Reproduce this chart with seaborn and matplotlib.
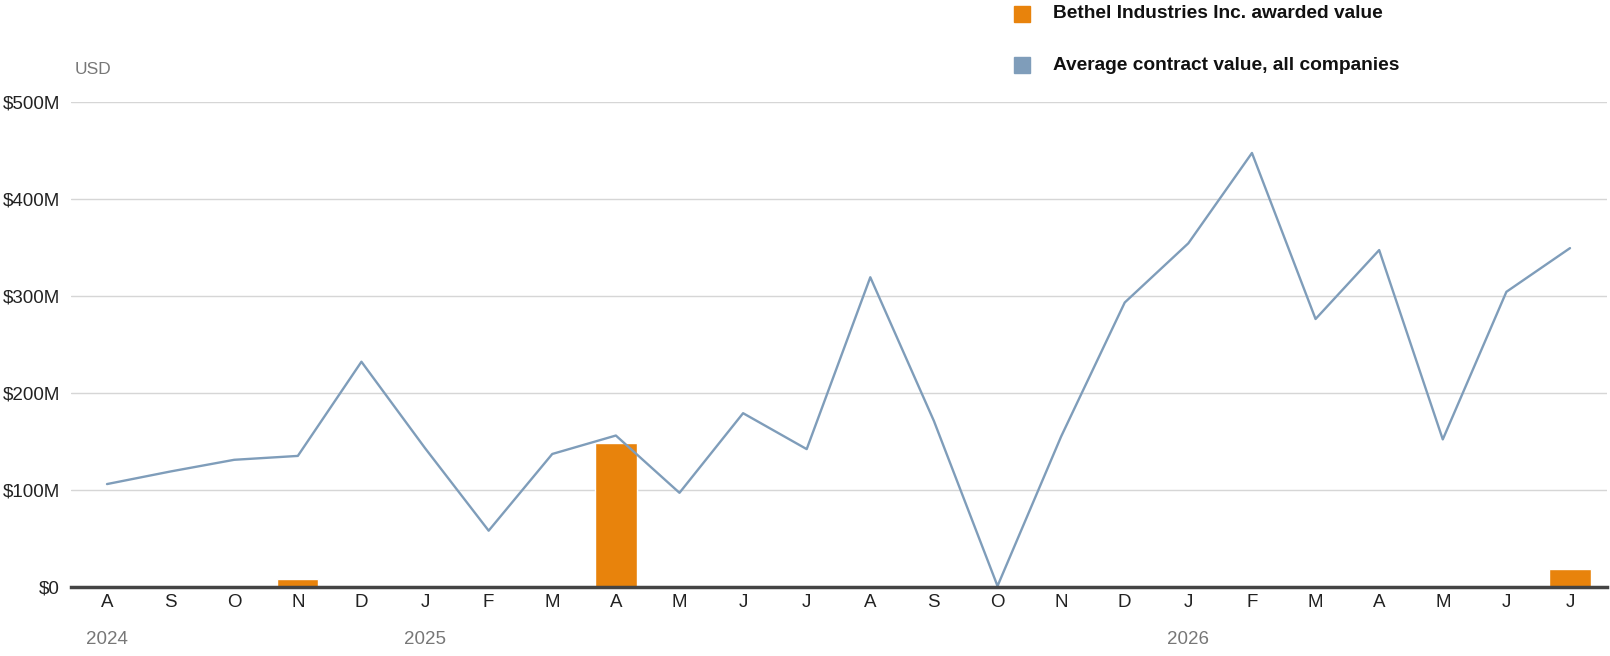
import matplotlib
matplotlib.use("Agg")
import matplotlib.pyplot as plt
import matplotlib.transforms as mtransforms
import seaborn as sns
import pandas as pd
import numpy as np
from matplotlib.patches import Rectangle
from matplotlib import font_manager

months = ["A", "S", "O", "N", "D", "J", "F", "M", "A", "M", "J", "J",
          "A", "S", "O", "N", "D", "J", "F", "M", "A", "M", "J", "J"]
years = ["2024", "2025", "2026"]
year_pos = [0, 5, 17]
avg_value = [106, 119, 131, 135, 232, 143, 58, 137, 156, 97, 179, 142,
             319, 171, 1, 155, 293, 354, 447, 276, 347, 152, 304, 349]
bethel_value = [0, 0, 0, 8.5, 0, 0, 0, 0, 148, 0, 0, 0,
                0, 0, 0, 0, 0, 0, 0, 0, 0, 0, 0, 18.5]
yticks = [0, 100, 200, 300, 400, 500]
ytick_labels = ["$0", "$100M", "$200M", "$300M", "$400M", "$500M"]

sns.set_theme(style="white")
names = {f.name for f in font_manager.fontManager.ttflist}
base = "Liberation Sans Narrow" if "Liberation Sans Narrow" in names else "Liberation Sans"
plt.rcParams["font.family"] = [base, "DejaVu Sans"]

ORANGE = "#E8830C"
BLUE = "#7F9DBA"

df = pd.DataFrame({"idx": np.arange(len(months)), "avg": avg_value, "bethel": bethel_value})

fig = plt.figure(figsize=(16.1, 6.56), dpi=100)
W, H = 1610, 656
L, R, T, B = 71, 1607, 101.5, 587
ax = fig.add_axes([L / W, 1 - B / H, (R - L) / W, (B - T) / H])

sns.barplot(data=df, x="idx", y="bethel", color=ORANGE, width=0.65, ax=ax,
            saturation=1, native_scale=True, zorder=2)
sns.lineplot(data=df, x="idx", y="avg", color=BLUE, linewidth=1.7, ax=ax, zorder=3)

step = (1570 - 107) / 23
ax.set_xlim(-(107 - L) / step, 23 + (R - 1570) / step)
ax.set_ylim(0, 500)
ax.set_yticks(yticks)
ax.set_yticklabels(ytick_labels, fontsize=13.5, color="#222222")
ax.set_xticks(np.arange(len(months)))
ax.set_xticklabels(months, fontsize=13.5, color="#222222")
ax.tick_params(axis="x", length=0, pad=5)
ax.tick_params(axis="y", length=0, pad=8)
ax.set_xlabel("")
ax.set_ylabel("")
ax.grid(axis="y", color="#d6d6d6", linewidth=1, zorder=0)
ax.set_axisbelow(True)
for s in ["top", "right", "left"]:
    ax.spines[s].set_visible(False)
ax.spines["bottom"].set_color("#444444")
ax.spines["bottom"].set_linewidth(2.5)
ax.spines["bottom"].set_zorder(4)

# year labels
ytrans = mtransforms.blended_transform_factory(ax.transData, fig.transFigure)
for yl, p in zip(years, year_pos):
    ax.text(p, 1 - 639 / H, yl, transform=ytrans,
            ha="center", va="center", fontsize=13.5, color="#777777")

fig.text(75 / W, 1 - 70 / H, "USD", ha="left", va="center", fontsize=12.5, color="#777777")

# legend
for ty, label, c in [(14, "Bethel Industries Inc. awarded value", ORANGE),
                     (65, "Average contract value, all companies", BLUE)]:
    fig.patches.append(Rectangle((1014 / W, 1 - (ty + 8) / H), 16 / W, 16 / H,
                                 transform=fig.transFigure, color=c, figure=fig))
    fig.text(1053 / W, 1 - ty / H, label, ha="left", va="center", fontsize=13.8,
             fontweight="bold", color="#111111")

fig.savefig("out.png", dpi=100)
